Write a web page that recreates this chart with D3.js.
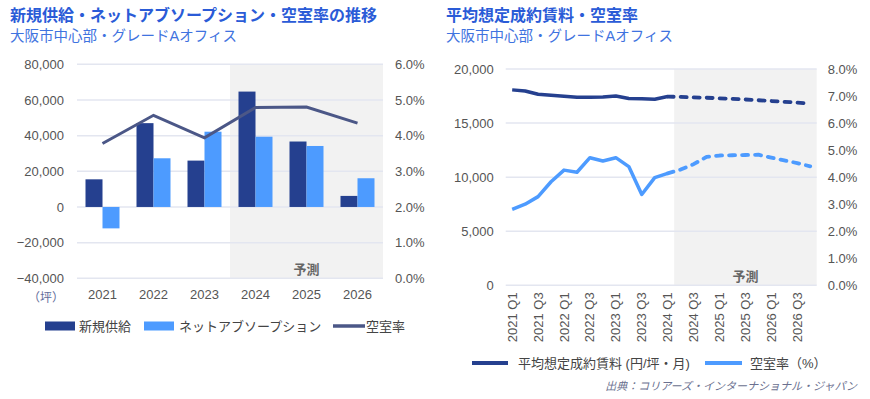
<!DOCTYPE html>
<html>
<head>
<meta charset="utf-8">
<script src="https://cdn.jsdelivr.net/npm/d3@7"></script>
<style>
  body { margin: 0; background: #fff; }
  svg { display: block; font-family: "Liberation Sans", "Noto Sans CJK JP", sans-serif; }
</style>
</head>
<body>
<svg id="chart" width="870" height="399"></svg>
<script>
// ---- left chart data (坪 / %) ----
const years = ["2021", "2022", "2023", "2024", "2025", "2026"];
const newSupply = [15500, 47000, 26000, 64700, 36700, 6200];
const netAbsorption = [-12000, 27300, 42200, 39400, 34200, 16100];
const vacancyYear = [3.78, 4.57, 3.94, 4.79, 4.80, 4.35];
const leftTicks = [-40000, -20000, 0, 20000, 40000, 60000, 80000];
const leftRightTicks = [0, 1, 2, 3, 4, 5, 6];

// ---- right chart data (円/坪・月 / %) ----
const quarters = [
  "2021 Q1", "2021 Q2", "2021 Q3", "2021 Q4",
  "2022 Q1", "2022 Q2", "2022 Q3", "2022 Q4",
  "2023 Q1", "2023 Q2", "2023 Q3", "2023 Q4",
  "2024 Q1", "2024 Q2", "2024 Q3", "2024 Q4",
  "2025 Q1", "2025 Q2", "2025 Q3", "2025 Q4",
  "2026 Q1", "2026 Q2", "2026 Q3", "2026 Q4"
];
const rentActual = [18070, 17970, 17660, 17570, 17480, 17390, 17390, 17420, 17510, 17270, 17240, 17210, 17450];
const rentForecast = [17450, 17420, 17380, 17340, 17290, 17240, 17180, 17110, 17040, 16970, 16890, 16800];
const vacActual = [2.81, 3.00, 3.28, 3.83, 4.26, 4.18, 4.72, 4.60, 4.72, 4.39, 3.36, 3.98, 4.14];
const vacForecast = [4.14, 4.28, 4.48, 4.75, 4.80, 4.81, 4.82, 4.83, 4.72, 4.62, 4.52, 4.40];
const forecastStart = "2024 Q1";
const rightTicks = [0, 5000, 10000, 15000, 20000];
const rightRightTicks = [0, 1, 2, 3, 4, 5, 6, 7, 8];

const darkBlue = "#25408f";
const lightBlue = "#4d9bff";
const slate = "#4b5787";
const gridCol = "#e3e6f0";
const tickCol = "#555";
const shadeCol = "#f2f2f2";

const svg = d3.select("#chart");
const fmt = d3.format(",");
const pct = d => d.toFixed(1) + "%";

function title(x, main, sub) {
  svg.append("text").attr("x", x).attr("y", 21)
    .attr("font-size", "16px").attr("font-weight", "bold")
    .attr("fill", "#2a5bd7").text(main);
  svg.append("text").attr("x", x).attr("y", 41)
    .attr("font-size", "14.5px").attr("fill", "#3f73e0").text(sub);
}

function tickText(g, sel, anchor) {
  g.call(sel).call(a => a.select(".domain").remove());
  g.selectAll("text").attr("fill", tickCol).attr("font-size", "13px")
    .attr("font-family", "Liberation Sans, sans-serif").attr("text-anchor", anchor);
}

// ================= LEFT CHART =================
title(10, "新規供給・ネットアブソープション・空室率の推移", "大阪市中心部・グレードAオフィス");

const x0 = d3.scaleBand().domain(years).range([77, 383])
  .paddingInner(1 / 3).paddingOuter(1 / 6);
const x1 = d3.scaleBand().domain(["supply", "absorption"]).range([0, x0.bandwidth()]);
const yL = d3.scaleLinear().domain([-40000, 80000]).range([278.3, 64.3]);
const yL2 = d3.scaleLinear().domain([0, 6]).range([278.3, 64.3]);

const gap0 = (x0.step() - x0.bandwidth()) / 2;
svg.append("rect")
  .attr("x", x0("2024") - gap0).attr("y", yL(80000))
  .attr("width", x0.range()[1] - (x0("2024") - gap0))
  .attr("height", yL(-40000) - yL(80000))
  .attr("fill", shadeCol);

svg.append("g").selectAll("line").data(leftTicks).join("line")
  .attr("x1", 77).attr("x2", 383)
  .attr("y1", d => yL(d)).attr("y2", d => yL(d))
  .attr("stroke", gridCol).attr("stroke-width", 1.5);

svg.append("text").attr("x", x0("2024") - gap0 + (383 - x0("2024") + gap0) / 2).attr("y", 274)
  .attr("text-anchor", "middle").attr("font-size", "13px").attr("font-weight", "bold")
  .attr("fill", "#666").text("予測");

const barG = svg.append("g");
barG.selectAll(".sup").data(years).join("rect")
  .attr("x", d => x0(d) + x1("supply"))
  .attr("width", x1.bandwidth())
  .attr("y", (d, i) => yL(Math.max(0, newSupply[i])))
  .attr("height", (d, i) => Math.abs(yL(newSupply[i]) - yL(0)))
  .attr("fill", darkBlue);
barG.selectAll(".abs").data(years).join("rect")
  .attr("x", d => x0(d) + x1("absorption"))
  .attr("width", x1.bandwidth())
  .attr("y", (d, i) => yL(Math.max(0, netAbsorption[i])))
  .attr("height", (d, i) => Math.abs(yL(netAbsorption[i]) - yL(0)))
  .attr("fill", lightBlue);

svg.append("path")
  .datum(years.map((d, i) => [x0(d) + x0.bandwidth() / 2, yL2(vacancyYear[i])]))
  .attr("d", d3.line())
  .attr("fill", "none").attr("stroke", slate).attr("stroke-width", 3);

tickText(svg.append("g").attr("transform", "translate(77,0)"),
  d3.axisLeft(yL).tickValues(leftTicks).tickSize(0).tickPadding(13).tickFormat(fmt), "end");
tickText(svg.append("g").attr("transform", "translate(383,0)"),
  d3.axisRight(yL2).tickValues(leftRightTicks).tickSize(0).tickPadding(12).tickFormat(pct), "start");
tickText(svg.append("g").attr("transform", "translate(0,278.3)"),
  d3.axisBottom(x0).tickSize(0).tickPadding(11), "middle");

svg.append("text").attr("x", 46).attr("y", 302).attr("text-anchor", "middle")
  .attr("font-size", "12px").attr("fill", "#5f6b9a").text("（坪）");

// legend left
const legL = svg.append("g").attr("font-size", "13px").attr("fill", "#444");
legL.append("rect").attr("x", 45).attr("y", 321.5).attr("width", 30).attr("height", 9).attr("fill", darkBlue);
legL.append("text").attr("x", 79).attr("y", 331).attr("fill", "#444").text("新規供給");
legL.append("rect").attr("x", 144).attr("y", 321.5).attr("width", 30).attr("height", 9).attr("fill", lightBlue);
legL.append("text").attr("x", 179).attr("y", 331).attr("fill", "#444").text("ネットアブソープション");
legL.append("line").attr("x1", 333).attr("x2", 365).attr("y1", 326).attr("y2", 326)
  .attr("stroke", slate).attr("stroke-width", 3.5);
legL.append("text").attr("x", 366).attr("y", 331).attr("fill", "#444").text("空室率");

// ================= RIGHT CHART =================
title(446, "平均想定成約賃料・空室率", "大阪市中心部・グレードAオフィス");

const xq = d3.scaleBand().domain(quarters).range([505.7, 816.7]);
const cx = d => xq(d) + xq.bandwidth() / 2;
const yR = d3.scaleLinear().domain([0, 20000]).range([285.3, 69]);
const yR2 = d3.scaleLinear().domain([0, 8]).range([285.3, 69]);

const shadeX = xq(quarters[quarters.indexOf(forecastStart) + 1]);
svg.append("rect")
  .attr("x", shadeX).attr("y", yR(20000))
  .attr("width", 816.7 - shadeX).attr("height", yR(0) - yR(20000))
  .attr("fill", shadeCol);

svg.append("g").selectAll("line").data(rightTicks).join("line")
  .attr("x1", 505.7).attr("x2", 816.7)
  .attr("y1", d => yR(d)).attr("y2", d => yR(d))
  .attr("stroke", gridCol).attr("stroke-width", 1.5);

svg.append("text").attr("x", shadeX + (816.7 - shadeX) / 2).attr("y", 281)
  .attr("text-anchor", "middle").attr("font-size", "13px").attr("font-weight", "bold")
  .attr("fill", "#666").text("予測");

const fStart = quarters.indexOf(forecastStart);
const lineR = d3.line();
function series(vals, offset, yScale, color, dashed, width) {
  svg.append("path")
    .datum(vals.map((v, i) => [cx(quarters[i + offset]), yScale(v)]))
    .attr("d", lineR)
    .attr("fill", "none").attr("stroke", color).attr("stroke-width", width)
    .attr("stroke-linejoin", "round")
    .attr("stroke-linecap", dashed ? "round" : "butt")
    .attr("stroke-dasharray", dashed ? "6,7" : null);
}
series(rentActual, 0, yR, darkBlue, false, 3.5);
series(rentForecast, fStart, yR, darkBlue, true, 3.8);
series(vacActual, 0, yR2, lightBlue, false, 3.5);
series(vacForecast, fStart, yR2, lightBlue, true, 3.8);

tickText(svg.append("g").attr("transform", "translate(505.7,0)"),
  d3.axisLeft(yR).tickValues(rightTicks).tickSize(0).tickPadding(12).tickFormat(fmt), "end");
tickText(svg.append("g").attr("transform", "translate(816.7,0)"),
  d3.axisRight(yR2).tickValues(rightRightTicks).tickSize(0).tickPadding(11).tickFormat(pct), "start");

const xAxR = svg.append("g").attr("transform", "translate(0,285.3)");
tickText(xAxR, d3.axisBottom(xq).tickValues(quarters.filter(q => /Q[13]$/.test(q))).tickSize(0), "end");
xAxR.selectAll("text")
  .attr("transform", "rotate(-90)")
  .attr("x", -7).attr("y", 0).attr("dy", "0.35em");

// legend right
const legR = svg.append("g").attr("font-size", "13px");
legR.append("line").attr("x1", 472).attr("x2", 508).attr("y1", 363).attr("y2", 363)
  .attr("stroke", darkBlue).attr("stroke-width", 4);
legR.append("text").attr("x", 518).attr("y", 368).attr("fill", "#444").text("平均想定成約賃料 (円/坪・月)");
legR.append("line").attr("x1", 705).attr("x2", 742).attr("y1", 363).attr("y2", 363)
  .attr("stroke", lightBlue).attr("stroke-width", 4);
legR.append("text").attr("x", 750).attr("y", 368).attr("fill", "#444").text("空室率（%）");

svg.append("text").attr("x", 857).attr("y", 390).attr("text-anchor", "end")
  .attr("font-size", "11px").attr("font-style", "italic").attr("fill", "#6b7190")
  .text("出典：コリアーズ・インターナショナル・ジャパン");
</script>
</body>
</html>
